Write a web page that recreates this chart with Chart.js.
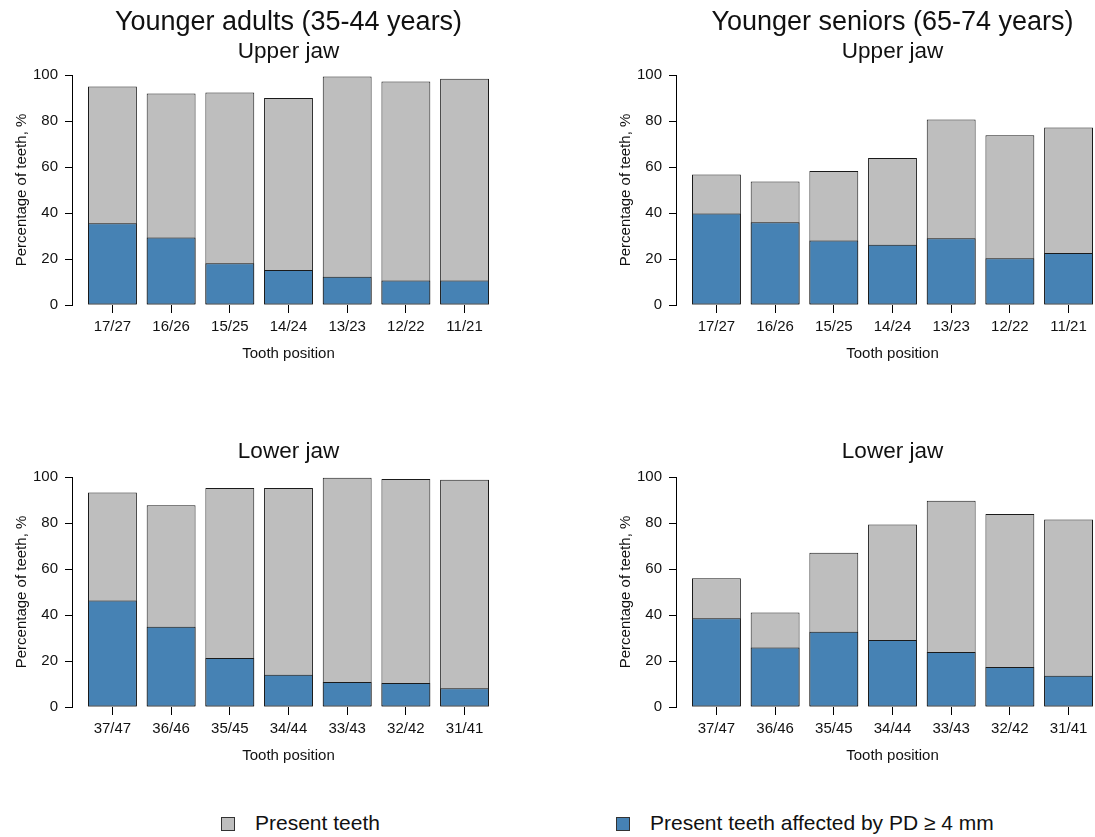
<!DOCTYPE html>
<html>
<head>
<meta charset="utf-8">
<script src="https://cdn.jsdelivr.net/npm/chart.js@4/dist/chart.umd.min.js"></script>
<style>
html, body { margin: 0; padding: 0; background: #fff; }
#page { position: relative; width: 1095px; height: 837px; overflow: hidden; font-family: 'Liberation Sans', Arial, sans-serif; }
.panel { position: absolute; }
.legend-item { position: absolute; top: 809px; height: 28px; display: flex; align-items: center; font-size: 21px; color: #111; white-space: nowrap; }
.swatch { box-sizing: border-box; width: 14px; height: 14px; border: 1px solid #333; margin-right: 20px; margin-top: 2px; }
</style>
</head>
<body>
<div id="page">
    <canvas class="panel" id="adultsUpper" width="520" height="370" style="left:0px;top:0px"></canvas>
    <canvas class="panel" id="seniorsUpper" width="520" height="370" style="left:604px;top:0px"></canvas>
    <canvas class="panel" id="adultsLower" width="520" height="370" style="left:0px;top:402px"></canvas>
    <canvas class="panel" id="seniorsLower" width="520" height="370" style="left:604px;top:402px"></canvas>
    <div class="legend-item" style="left:221px"><span class="swatch" id="swPresent"></span>Present teeth</div>
    <div class="legend-item" style="left:616px"><span class="swatch" id="swAffected"></span>Present teeth affected by PD ≥ 4 mm</div>
</div>
<script>
const upperTeeth = ['17/27', '16/26', '15/25', '14/24', '13/23', '12/22', '11/21'];
const lowerTeeth = ['37/47', '36/46', '35/45', '34/44', '33/43', '32/42', '31/41'];

// percentages
const adultsUpperPresent = [95.0, 92.0, 92.4, 90.0, 99.3, 97.2, 98.4];
const adultsUpperAffected = [35.5, 29.3, 18.1, 15.2, 12.3, 10.6, 10.6];
const seniorsUpperPresent = [56.7, 53.7, 58.3, 63.9, 80.6, 73.8, 77.2];
const seniorsUpperAffected = [39.8, 36.0, 28.0, 26.2, 29.0, 20.3, 22.6];
const adultsLowerPresent = [93.3, 87.7, 95.2, 95.2, 99.7, 99.1, 98.8];
const adultsLowerAffected = [46.3, 34.9, 21.3, 14.0, 10.9, 10.4, 8.1];
const seniorsLowerPresent = [56.0, 41.1, 67.1, 79.3, 89.7, 83.9, 81.5];
const seniorsLowerAffected = [38.6, 25.9, 32.7, 29.1, 23.9, 17.4, 13.6];

const yTicks = [0, 20, 40, 60, 80, 100];

const presentColor = '#BEBEBE';
const affectedColor = '#4682B4';
const inkColor = '#111';
const fontFamily = "'Liberation Sans', Arial, sans-serif";

document.getElementById('swPresent').style.background = presentColor;
document.getElementById('swAffected').style.background = affectedColor;

// centre title + subtitle over the plot area, not over the whole canvas
const centerTitlesOnPlot = {
    id: 'centerTitlesOnPlot',
    afterLayout(chart) {
        chart.boxes.forEach(box => {
            if (box.position === 'top' && !(box instanceof Chart.Scale)) {
                box.left = chart.chartArea.left;
                box.right = chart.chartArea.right;
                box.width = box.right - box.left;
            }
        });
    }
};

function toPoints(values) {
    return values.map((v, i) => ({x: i, y: v}));
}

function makeChart(id, title, subtitle, labels, present, affected) {
    const ctx = document.getElementById(id).getContext('2d');
    return new Chart(ctx, {
        type: 'bar',
        data: {
            datasets: [
                {
                    label: 'Present teeth affected by PD ≥ 4 mm',
                    data: toPoints(affected),
                    backgroundColor: affectedColor,
                    borderColor: '#1a1a1a',
                    borderWidth: 1,
                    borderSkipped: false,
                    grouped: false,
                    barPercentage: 0.833,
                    categoryPercentage: 1
                },
                {
                    label: 'Present teeth',
                    data: toPoints(present),
                    backgroundColor: presentColor,
                    borderColor: '#1a1a1a',
                    borderWidth: 1,
                    borderSkipped: false,
                    grouped: false,
                    barPercentage: 0.833,
                    categoryPercentage: 1
                }
            ]
        },
        plugins: [centerTitlesOnPlot],
        options: {
            responsive: false,
            animation: false,
            devicePixelRatio: 1,
            layout: {padding: {left: 0, right: 15, top: 0, bottom: 7}},
            plugins: {
                legend: {display: false},
                tooltip: {enabled: false},
                title: {
                    display: !!title,
                    text: title,
                    color: inkColor,
                    font: {family: fontFamily, size: 27, weight: 'normal'},
                    padding: {top: 6, bottom: 0}
                },
                subtitle: {
                    display: true,
                    text: subtitle,
                    color: inkColor,
                    font: {family: fontFamily, size: 22.5, weight: 'normal'},
                    padding: title ? {top: 0, bottom: 9.6} : {top: 36, bottom: 12}
                }
            },
            scales: {
                x: {
                    type: 'linear',
                    min: -0.689,
                    max: 6.689,
                    offset: false,
                    afterBuildTicks: scale => {
                        scale.ticks = labels.map((_, i) => ({value: i}));
                    },
                    ticks: {
                        autoSkip: false,
                        maxRotation: 0,
                        padding: 5,
                        color: inkColor,
                        font: {family: fontFamily, size: 15},
                        callback: value => labels[value]
                    },
                    grid: {offset: false, drawOnChartArea: false, drawTicks: true, tickLength: 8, color: '#000'},
                    border: {display: false},
                    title: {
                        display: true,
                        text: 'Tooth position',
                        color: inkColor,
                        font: {family: fontFamily, size: 15},
                        padding: {top: 4, bottom: 0}
                    }
                },
                y: {
                    min: 0,
                    max: 100,
                    afterBuildTicks: scale => {
                        scale.ticks = yTicks.map(v => ({value: v}));
                    },
                    afterFit: scale => {
                        scale.width = 72;
                    },
                    ticks: {
                        padding: 7,
                        color: inkColor,
                        font: {family: fontFamily, size: 15}
                    },
                    grid: {drawOnChartArea: false, drawTicks: true, tickLength: 7, color: '#000'},
                    border: {display: true, color: '#000', width: 1},
                    title: {
                        display: true,
                        text: 'Percentage of teeth, %',
                        color: inkColor,
                        font: {family: fontFamily, size: 15},
                        padding: {top: 13, bottom: 0}
                    }
                }
            }
        }
    });
}

makeChart('adultsUpper', 'Younger adults (35-44 years)', 'Upper jaw', upperTeeth, adultsUpperPresent, adultsUpperAffected);
makeChart('seniorsUpper', 'Younger seniors (65-74 years)', 'Upper jaw', upperTeeth, seniorsUpperPresent, seniorsUpperAffected);
makeChart('adultsLower', '', 'Lower jaw', lowerTeeth, adultsLowerPresent, adultsLowerAffected);
makeChart('seniorsLower', '', 'Lower jaw', lowerTeeth, seniorsLowerPresent, seniorsLowerAffected);
</script>
</body>
</html>
